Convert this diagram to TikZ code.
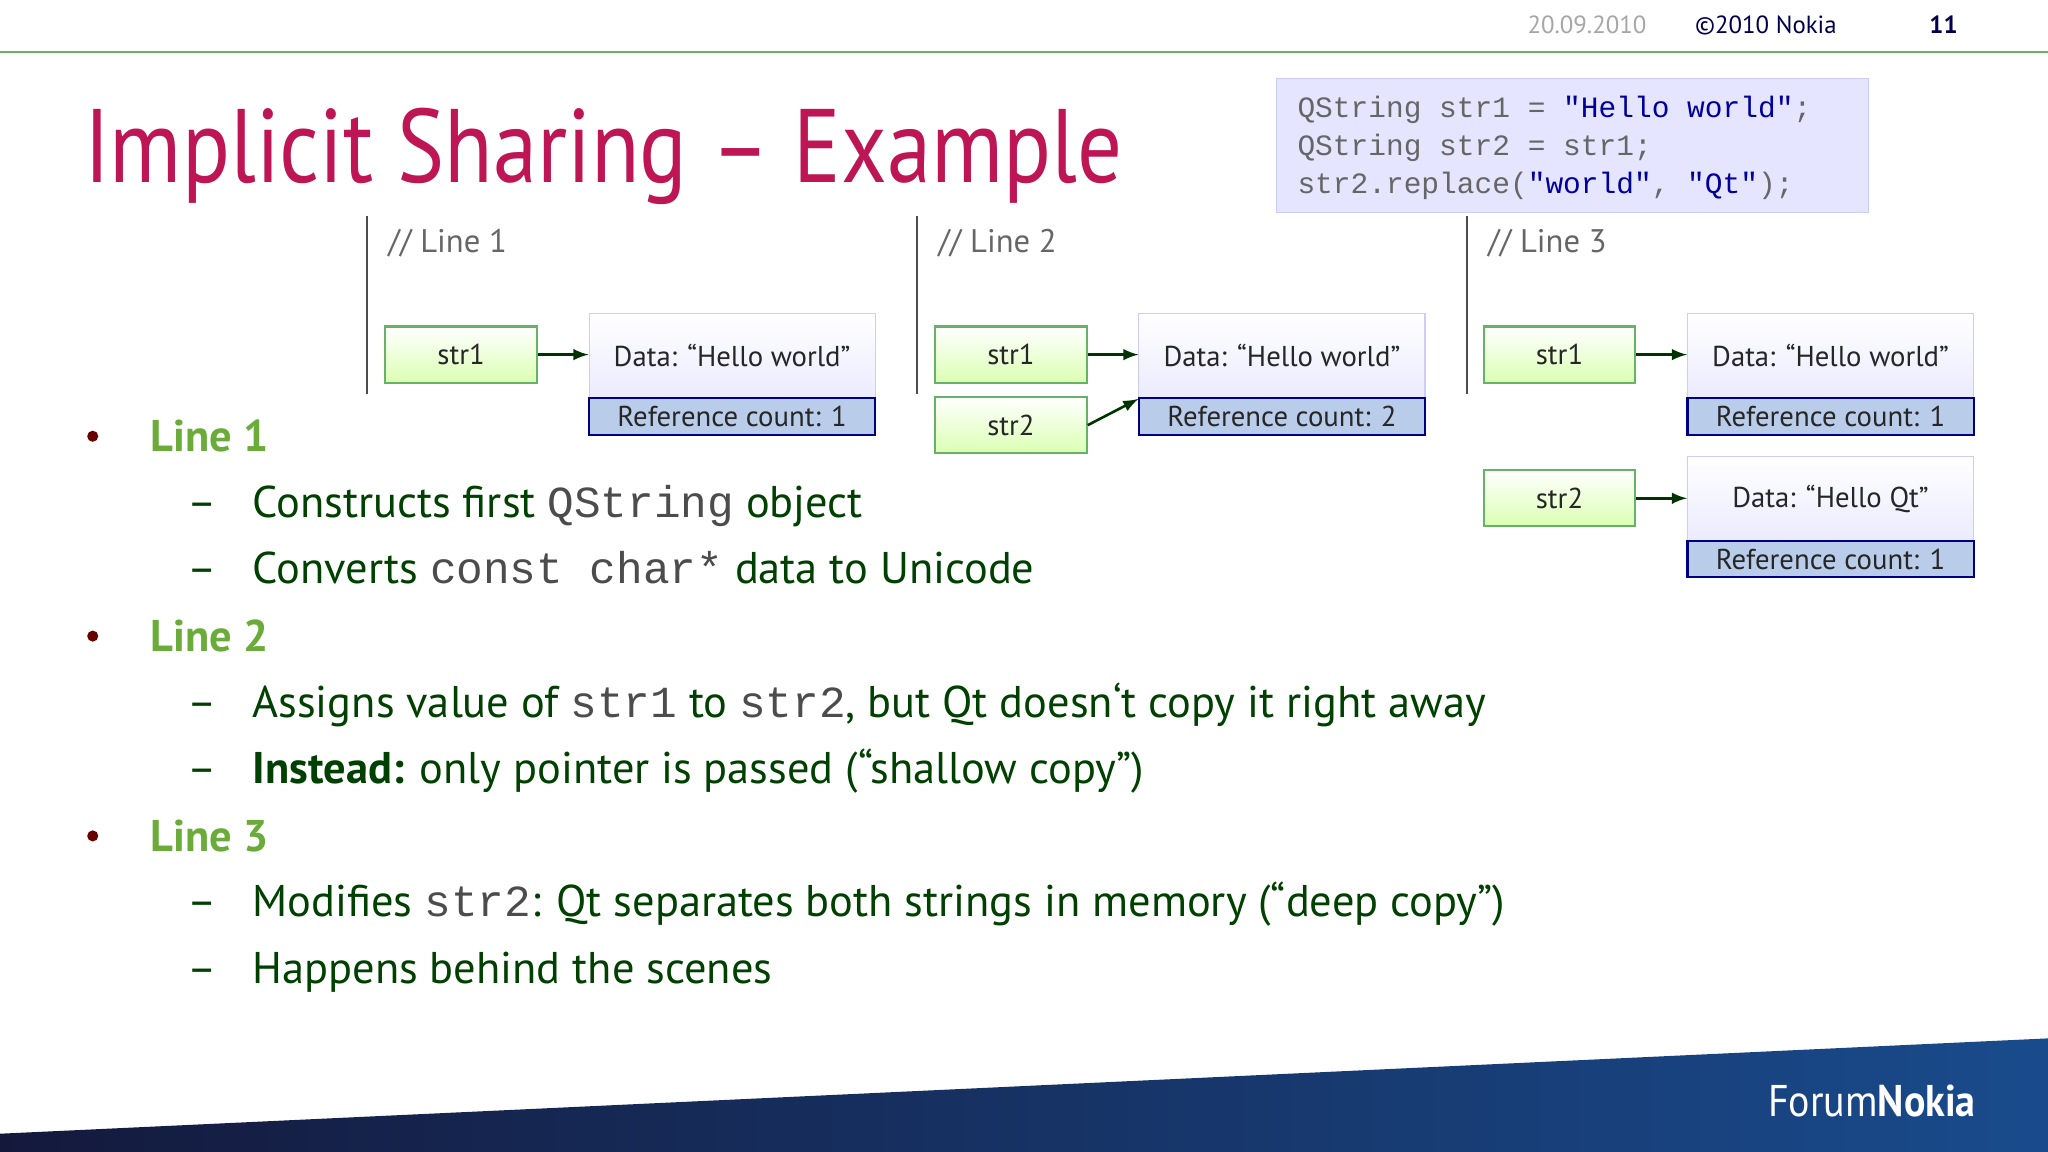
\documentclass[tikz,border=0pt]{standalone}
\usepackage{fontspec}
\setmainfont{PT Sans}
\setmonofont{Liberation Mono}
\newcommand{\cw}[1]{{\ttfamily\color{black!70}#1}}
\begin{document}
\begin{tikzpicture}[x=0.5pt,y=-0.5pt,
  strbox/.style={draw=green!50!black!60,line width=0.8pt,top color=white,bottom color=green!30!lime!30,minimum width=58pt,minimum height=21.5pt,font=\fontsize{11}{13}\selectfont,text=black!85},
  databox/.style={draw=blue!20,top color=white,bottom color=blue!8,minimum width=109.5pt,minimum height=32.5pt,font=\fontsize{11}{13}\selectfont,text=black!85,inner sep=0pt},
  refbox/.style={draw=blue!50!black,line width=0.8pt,fill={rgb,255:red,185;green,205;blue,235},minimum width=109.5pt,minimum height=14pt,font=\fontsize{11}{13}\selectfont,text=black!85,inner sep=0pt},
  arr/.style={-latex,line width=1pt,draw=green!20!black},
  body/.style={anchor=base west,inner sep=0pt,font=\fontsize{17}{20}\selectfont,text=green!25!black},
  head/.style={anchor=base west,inner sep=0pt,font=\bfseries\fontsize{17}{20}\selectfont,text={rgb,255:red,106;green,171;blue,58}},
  dot/.style={circle,fill=red!40!black,inner sep=1.5pt},
  code/.style={anchor=base west,inner sep=0pt,font=\ttfamily\fontsize{11.3}{12}\selectfont,text=black!60}]
\useasboundingbox (0,0) rectangle (1568,882);
\fill[white] (0,0) rectangle (1568,882);
% header
\draw[green!50!black!60,line width=0.6pt] (0,40) -- (1568,40);
\node[anchor=base,text=black!35,font=\fontsize{9.5}{11}\selectfont] (date) at (1215,26) {20.09.2010};
\node[anchor=base,text=blue!30!black,font=\fontsize{9.5}{11}\selectfont] (copy) at (1352,26) {©2010 Nokia};
\node[anchor=base,text=blue!30!black,font=\bfseries\fontsize{9.5}{11}\selectfont] (pg) at (1488,26) {11};
% title
\node[anchor=base west,inner sep=0pt,text={rgb,255:red,190;green,22;blue,85},font=\fontsize{40}{44}\selectfont] (title) at (64,140) {\scalebox{0.85}[1]{Implicit Sharing – Example}};
% code box
\node[draw=blue!20,fill=blue!10,minimum width=226.5pt,minimum height=51pt,anchor=north west] (codebox) at (977,60) {};
\node[code] (c1) at (993,90) {QString str1 = \textcolor{blue!60!black}{"Hello world"};};
\node[code] (c2) at (993,119) {QString str2 = str1;};
\node[code] (c3) at (993,148) {str2.replace(\textcolor{blue!60!black}{"world"}, \textcolor{blue!60!black}{"Qt"});};
% columns
\foreach \dx/\n in {0/1,421/2,842/3}{
  \draw[black!70,line width=0.6pt] (281+\dx,165) -- (281+\dx,302);
  \node[anchor=base west,inner sep=0pt,text=black!60,font=\fontsize{12.5}{14}\selectfont] at (297+\dx,193) {// Line \n};
}
% line 1
\node[strbox] (a1) at (353,271.5) {str1};
\node[databox] (ad) at (560.5,272.5) {Data: “Hello world”};
\node[refbox] (ar) at (560.5,319) {Reference count: 1};
\draw[arr] (a1) -- (ad.west|-a1);
% line 2
\node[strbox] (b1) at (774,271.5) {str1};
\node[strbox] (b2) at (774,325.5) {str2};
\node[databox] (bd) at (981.5,272.5) {Data: “Hello world”};
\node[refbox] (br) at (981.5,319) {Reference count: 2};
\draw[arr] (b1) -- (bd.west|-b1);
\draw[arr] (b2.east) -- (bd.south west);
% line 3
\node[strbox] (c1b) at (1194,271.5) {str1};
\node[databox] (cd) at (1401.5,272.5) {Data: “Hello world”};
\node[refbox] (cr) at (1401.5,319) {Reference count: 1};
\draw[arr] (c1b) -- (cd.west|-c1b);
\node[strbox] (c2b) at (1194,381.5) {str2};
\node[databox] (ed) at (1401.5,382) {Data: “Hello Qt”};
\node[refbox] (er) at (1401.5,428) {Reference count: 1};
\draw[arr] (c2b) -- (ed.west|-c2b);
% bullets
\node[dot] (d1) at (71,334) {};
\node[dot] (d2) at (71,487) {};
\node[dot] (d3) at (71,640) {};
\node[head] (h1) at (115,346) {Line 1};
\node[head] (h2) at (115,499) {Line 2};
\node[head] (h3) at (115,652) {Line 3};
\foreach \y in {396,447,549,600,702,753}{\node[body] at (143,\y) {–};}
\node[body] (t1) at (193,396) {Constructs first \cw{QString} object};
\node[body] (t2) at (193,447) {Converts \cw{const char*} data to Unicode};
\node[body] (t3) at (193,549) {Assigns value of \cw{str1} to \cw{str2}, but Qt doesn‘t copy it right away};
\node[body] (t4) at (193,600) {\textbf{Instead:} only pointer is passed (“shallow copy”)};
\node[body] (t5) at (193,702) {Modifies \cw{str2}: Qt separates both strings in memory (“deep copy”)};
\node[body] (t6) at (193,753) {Happens behind the scenes};
% bottom band
\shade[left color={rgb,255:red,20;green,25;blue,60},right color={rgb,255:red,25;green,75;blue,140}] (0,882) -- (0,868) -- (1568,795) -- (1568,882) -- cycle;
\node[anchor=base east,inner sep=0pt,text=white,font=\fontsize{17}{19}\selectfont] (fn) at (1513,855) {\scalebox{0.9}[1]{Forum\textbf{Nokia}}};
\end{tikzpicture}
\end{document}
